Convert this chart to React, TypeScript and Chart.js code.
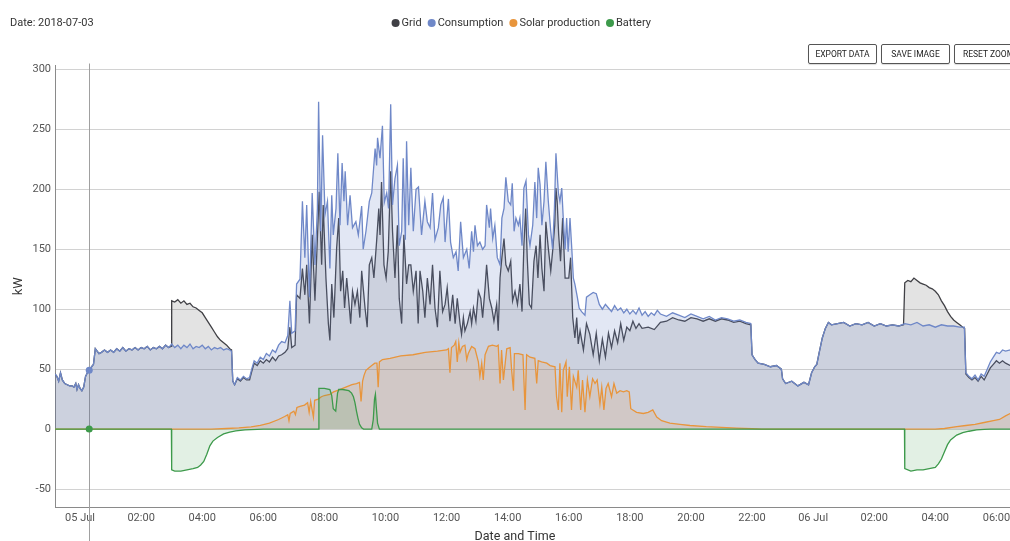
import React, { useEffect, useRef } from "react";
import { Chart, registerables } from "chart.js";

Chart.register(...registerables);

// ---------- data (hours since 05 Jul 00:00, kW) ----------
const seriesNames = ["Grid", "Consumption", "Solar production", "Battery"];
const xTickHours = [0, 2, 4, 6, 8, 10, 12, 14, 16, 18, 20, 22, 24, 26, 28, 30];
const dayLabels: Record<number, string> = { 0: "05 Jul", 24: "06 Jul" };
const yTickValues = [-50, 0, 50, 100, 150, 200, 250, 300];
const xRange = [-0.82, 31.1];
const yRange = [-65, 303.3];
const hoverHour = 0.3;
const dateText = "Date: 2018-07-03";
const buttonLabels = ["EXPORT DATA", "SAVE IMAGE", "RESET ZOOM"];

const consumptionPts: [number, number][] = [
  [-0.82,46],[-0.76,44],[-0.7,40],[-0.64,47],[-0.58,41],[-0.5,38],[-0.42,37],[-0.34,36],[-0.26,36],[-0.2,35],[-0.14,38],[-0.1,33],[-0.05,37],[0.0,34],[0.06,32],[0.12,35],[0.18,44],[0.24,47],[0.3,49],[0.38,52],[0.44,54],[0.5,67],[0.56,65],[0.62,63],[0.7,64],[0.8,66],[0.9,64],[1.0,66],[1.1,64],[1.2,67],[1.3,65],[1.4,68],[1.5,65],[1.6,67],[1.7,66],[1.8,68],[1.9,66],[2.0,68],[2.1,67],[2.2,69],[2.3,66],[2.4,68],[2.5,67],[2.6,69],[2.7,67],[2.8,70],[2.9,68],[3.0,71],[3.1,68],[3.2,70],[3.3,67],[3.4,70],[3.5,68],[3.6,71],[3.7,67],[3.8,69],[3.9,68],[4.0,70],[4.1,67],[4.2,69],[4.3,66],[4.4,68],[4.5,67],[4.6,68],[4.7,66],[4.8,67],[4.9,66],[4.96,65],[5.0,40],[5.06,37],[5.15,43],[5.25,41],[5.35,44],[5.45,42],[5.55,43],[5.62,50],[5.7,57],[5.8,55],[5.9,60],[6.0,58],[6.1,63],[6.2,61],[6.3,66],[6.4,64],[6.5,70],[6.6,73],[6.71,72],[6.8,78],[6.87,107],[6.93,80],[7.04,82],[7.09,121],[7.2,125],
  [7.28,190],[7.36,143],[7.42,187],[7.51,110],[7.6,197],[7.69,137],[7.77,184],[7.81,273],[7.88,165],[7.94,245],[8.02,179],[8.1,190],[8.18,134],[8.24,195],[8.29,162],[8.38,184],[8.44,230],[8.51,170],[8.58,222],[8.64,190],[8.68,215],[8.76,170],[8.84,195],[8.92,168],[9.03,173],[9.11,162],[9.22,186],[9.27,150],[9.36,165],[9.47,190],[9.55,197],[9.66,234],[9.71,220],[9.74,243],[9.82,226],[9.9,253],[9.96,189],[10.04,197],[10.1,184],[10.17,271],[10.23,187],[10.31,209],[10.39,220],[10.45,153],[10.53,165],[10.58,226],[10.65,158],[10.69,240],[10.76,170],[10.83,218],[10.91,165],[11.0,200],[11.08,202],[11.18,162],[11.29,190],[11.37,173],[11.46,168],[11.54,197],[11.62,158],[11.73,168],[11.81,187],[11.89,193],
  [11.95,156],[12.06,192],[12.13,156],[12.22,143],[12.31,148],[12.38,132],[12.46,173],[12.55,143],[12.66,150],[12.74,134],[12.82,165],[12.88,148],[12.93,170],[13.01,153],[13.09,156],[13.18,150],[13.26,153],[13.31,187],[13.4,168],[13.44,184],[13.51,159],[13.58,170],[13.66,143],[13.75,137],[13.81,176],[13.88,184],[13.94,210],[14.02,190],[14.1,187],[14.15,205],[14.21,165],[14.27,176],[14.35,170],[14.4,176],[14.47,153],[14.53,201],[14.6,207],[14.68,162],[14.73,153],[14.82,170],[14.89,206],[14.95,176],[15.0,218],[15.06,204],[15.12,170],[15.19,190],[15.25,223],[15.33,190],[15.41,165],[15.47,150],[15.53,184],[15.58,230],[15.66,197],[15.71,190],[15.77,201],[15.82,176],[15.88,150],[15.93,176],[15.98,148],[16.04,176],[16.1,150],[16.15,126],[16.2,121],[16.28,110],[16.34,101],[16.42,98],[16.53,95],[16.58,110],[16.69,112],
  [16.8,114],[16.9,113],[17.0,104],[17.1,100],[17.2,104],[17.3,101],[17.4,98],[17.5,103],[17.6,99],[17.7,101],[17.8,97],[17.9,100],[18.0,96],[18.1,99],[18.2,96],[18.3,101],[18.4,95],[18.5,98],[18.6,94],[18.7,97],[18.8,95],[18.9,99],[19.0,96],[19.2,94],[19.4,97],[19.6,95],[19.8,93],[20.0,96],[20.2,94],[20.4,92],[20.6,94],[20.8,91],[21.0,93],[21.2,92],[21.4,90],[21.6,91],[21.8,89],[21.96,88],[22.0,62],[22.1,58],[22.2,55],[22.4,54],[22.6,52],[22.8,53],[22.96,50],[23.0,42],[23.1,38],[23.3,40],[23.5,36],[23.7,39],[23.85,37],[23.95,47],[24.05,52],[24.12,54],[24.2,64],[24.3,76],[24.4,84],[24.5,89],[24.6,87],[24.8,88],[25.0,89],[25.2,86],[25.4,88],[25.6,87],[25.8,89],[26.0,86],[26.2,88],[26.4,86],[26.6,87],[26.8,86],[27.0,88],[27.2,87],[27.4,89],[27.6,86],[27.8,87],[28.0,85],[28.2,87],[28.4,86],[28.6,86],[28.8,85],[28.95,85],[29.0,47],[29.1,44],[29.2,42],[29.3,45],[29.4,41],[29.5,46],[29.6,44],[29.7,50],[29.8,56],[29.9,60],[30.0,64],[30.1,63],[30.2,66],[30.3,65],[30.45,66],[30.6,64],[30.8,67],[31.1,66],
];

const gridPts: [number, number][] = [
  [-0.82,46],[-0.76,44],[-0.7,40],[-0.64,47],[-0.58,41],[-0.5,38],[-0.42,37],[-0.34,36],[-0.26,36],[-0.2,35],[-0.14,38],[-0.1,33],[-0.05,37],[0.0,34],[0.06,32],[0.12,35],[0.18,44],[0.24,47],[0.3,49],[0.38,52],[0.44,54],[0.5,67],[0.56,65],[0.62,63],[0.7,64],[0.8,66],[0.9,64],[1.0,66],[1.1,64],[1.2,67],[1.3,65],[1.4,68],[1.5,65],[1.6,67],[1.7,66],[1.8,68],[1.9,66],[2.0,68],[2.1,67],[2.2,69],[2.3,66],[2.4,68],[2.5,67],[2.6,69],[2.7,67],[2.8,70],[2.9,68],[2.98,69],
  [3.0,107],[3.1,106],[3.2,108],[3.3,105],[3.4,107],[3.5,104],[3.6,105],[3.7,102],[3.8,101],[3.9,99],[4.0,97],[4.1,93],[4.2,89],[4.3,85],[4.4,81],[4.5,77],[4.6,74],[4.7,72],[4.8,70],[4.9,67],[4.96,66],[5.0,40],[5.06,37],[5.15,42],[5.25,40],[5.35,43],[5.45,41],[5.55,41],[5.62,48],[5.7,55],[5.8,53],[5.9,57],[6.0,55],[6.1,58],[6.2,56],[6.3,60],[6.4,57],[6.5,61],[6.6,62],[6.71,64],[6.8,67],[6.87,85],[6.93,68],[7.04,70],[7.09,112],[7.2,109],
  [7.28,134],[7.36,112],[7.42,137],[7.51,88],[7.6,162],[7.69,107],[7.77,159],[7.83,198],[7.91,137],[7.96,187],[8.05,126],[8.13,88],[8.18,74],[8.24,121],[8.31,93],[8.4,151],[8.47,176],[8.53,115],[8.6,132],[8.66,101],[8.73,126],[8.79,109],[8.86,88],[8.92,115],[9.0,104],[9.08,115],[9.16,93],[9.22,132],[9.33,101],[9.4,85],[9.47,137],[9.55,143],[9.62,126],[9.71,157],[9.78,184],[9.82,162],[9.87,206],[9.95,137],[10.02,126],[10.09,148],[10.17,215],[10.23,165],[10.31,126],[10.39,170],[10.45,109],[10.53,88],[10.6,162],[10.69,121],[10.76,137],[10.83,137],[10.91,115],[11.0,132],[11.07,88],[11.13,132],[11.22,115],[11.29,93],[11.37,126],[11.46,104],[11.54,137],[11.62,101],[11.7,85],[11.78,132],[11.87,98],
  [11.95,104],[12.02,118],[12.11,90],[12.2,112],[12.28,88],[12.35,109],[12.44,88],[12.49,79],[12.55,93],[12.6,82],[12.68,88],[12.77,98],[12.82,88],[12.88,101],[12.96,90],[13.04,115],[13.12,109],[13.18,93],[13.26,118],[13.31,137],[13.4,109],[13.48,101],[13.55,90],[13.64,104],[13.69,82],[13.75,126],[13.81,143],[13.88,159],[13.94,137],[14.02,132],[14.1,140],[14.16,107],[14.24,115],[14.32,104],[14.4,121],[14.47,98],[14.53,153],[14.59,184],[14.64,143],[14.71,104],[14.78,101],[14.86,140],[14.93,153],[14.99,126],[15.06,162],[15.12,134],[15.19,115],[15.25,173],[15.33,151],[15.41,132],[15.47,148],[15.54,170],[15.58,201],[15.62,190],[15.67,162],[15.73,140],[15.8,176],[15.88,126],[15.93,126],[16.0,126],[16.06,143],[16.13,93],[16.2,76],[16.26,93],[16.31,71],[16.37,82],[16.48,66],[16.58,88],[16.69,79],
  [16.8,62],[16.9,80],[17.0,57],[17.1,75],[17.2,60],[17.3,80],[17.4,68],[17.5,82],[17.6,72],[17.7,88],[17.8,74],[17.9,85],[18.0,82],[18.1,90],[18.2,84],[18.3,88],[18.4,84],[18.6,85],[18.8,83],[19.0,89],[19.2,90],[19.4,93],[19.6,91],[19.8,90],[20.0,93],[20.2,92],[20.4,90],[20.6,92],[20.8,90],[21.0,92],[21.2,91],[21.4,89],[21.6,90],[21.8,88],[21.96,87],[22.0,62],[22.1,58],[22.2,55],[22.4,54],[22.6,52],[22.8,53],[22.96,50],[23.0,42],[23.1,38],[23.3,40],[23.5,36],[23.7,39],[23.85,37],[23.95,47],[24.05,52],[24.12,54],[24.2,64],[24.3,76],[24.4,84],[24.5,89],[24.6,87],[24.8,88],[25.0,89],[25.2,86],[25.4,88],[25.6,87],[25.8,89],[26.0,86],[26.2,88],[26.4,86],[26.6,87],[26.8,86],[26.96,87],
  [27.0,122],[27.1,124],[27.2,123],[27.3,126],[27.4,124],[27.5,122],[27.6,121],[27.7,120],[27.8,118],[27.9,117],[28.0,115],[28.1,112],[28.2,107],[28.3,103],[28.4,98],[28.5,94],[28.6,91],[28.7,89],[28.8,87],[28.9,85],[28.96,84],[29.0,46],[29.1,43],[29.2,41],[29.3,43],[29.4,40],[29.5,44],[29.6,41],[29.7,46],[29.8,51],[29.9,54],[30.0,57],[30.1,55],[30.2,57],[30.3,55],[30.45,53],[30.6,50],[30.8,52],[31.1,49],
];

const solarPts: [number, number][] = [
  [-0.82,0],[4.3,0],[4.8,0.5],[5.2,1],[5.6,1.8],[5.9,3],[6.2,5],[6.5,8],[6.7,10.5],[6.8,12],[6.84,7],[6.88,13],[7.0,15],[7.05,12],[7.1,18],[7.2,19],[7.35,20],[7.45,22],[7.5,14],[7.55,23],[7.64,10],[7.68,24],[7.8,25],[7.9,27],[8.0,28],[8.18,29],[8.3,31],[8.5,33],[8.7,35],[8.9,37],[9.05,38],[9.15,39],[9.2,23],[9.25,40],[9.3,45],[9.36,49],[9.45,51],[9.55,53],[9.65,55],[9.72,55],[9.76,35],[9.8,56],[9.9,58],[10.15,59],[10.5,61],[10.9,62],[11.3,64],[11.7,65],[12.0,66],[12.06,67],[12.11,47],[12.16,68],[12.25,70],[12.3,73],[12.35,56],[12.4,72],[12.44,64],[12.52,69],[12.6,70],[12.66,58],[12.71,63],[12.82,69],[12.93,67],[13.04,56],[13.09,44],[13.15,55],[13.2,41],[13.26,62],[13.37,69],[13.5,70],[13.64,69],[13.69,70],[13.75,38],[13.8,66],[13.86,41],[13.97,67],[14.08,68],[14.13,49],[14.19,32],[14.22,63],[14.35,63],[14.5,62],[14.57,16],[14.62,62],[14.73,60],[14.89,59],[14.95,38],[15.0,57],[15.11,56],[15.28,55],[15.39,53],[15.55,52],[15.6,27],[15.66,16],[15.71,55],[15.77,14],[15.82,49],[15.91,56],[15.95,27],[16.02,52],[16.09,16],[16.15,44],[16.26,35],[16.31,49],[16.39,16],[16.45,41],[16.53,14],[16.61,41],[16.69,27],[16.78,42],[16.86,38],[16.93,41],[17.02,21],[17.08,35],[17.15,16],[17.22,34],[17.29,38],[17.4,27],[17.48,38],[17.57,30],[17.68,32],[17.79,31],[17.9,32],[17.98,31],[18.03,17],[18.22,14],[18.44,13],[18.6,14],[18.75,16],[18.88,10],[19.04,7],[19.31,5],[19.64,4],[19.97,3],[20.5,2],[21.0,1.5],[21.5,0.8],[22.0,0.3],[22.3,0],[28.0,0],[28.3,0.5],[28.7,2],[29.0,3],[29.3,4],[29.6,5.5],[29.9,7],[30.1,8],[30.3,11],[30.45,13],[30.7,15],[31.1,17],
];

const batteryPts: [number, number][] = [
  [-0.82,0],[0.3,0],[2.99,0],[3.0,-34],[3.1,-35],[3.3,-35],[3.5,-34],[3.7,-33],[3.85,-32],[3.95,-30],[4.05,-27],[4.15,-21],[4.25,-14],[4.35,-10],[4.5,-7],[4.7,-4],[4.9,-2.5],[5.1,-1.5],[5.4,-0.7],[5.8,-0.2],[6.0,0],[7.8,0],[7.82,34],[8.0,34],[8.18,33],[8.24,28],[8.29,17],[8.37,15],[8.43,30],[8.47,33],[8.6,33],[8.8,32],[8.89,30],[8.95,27],[9.0,22],[9.05,15],[9.1,9],[9.15,4],[9.22,1],[9.28,0],[9.55,0],[9.6,8],[9.64,25],[9.67,29],[9.7,18],[9.74,5],[9.8,0],[26.99,0],[27.0,-33],[27.2,-35],[27.4,-34],[27.6,-34],[27.8,-33],[28.0,-32],[28.1,-29],[28.2,-25],[28.3,-19],[28.4,-13],[28.5,-9],[28.6,-7],[28.7,-5],[28.9,-3],[29.1,-1.8],[29.35,-0.7],[29.6,-0.2],[29.8,0],[31.1,0],
];

// ---------- styles ----------
const FONT = "Roboto, 'Noto Sans', sans-serif";
const lineColors = ["#404045", "#6f88c8", "#e8953c", "#3d9a4b"];
const fillColors = [
  "rgba(64,64,70,0.15)",
  "rgba(111,136,200,0.2)",
  "rgba(232,149,60,0.15)",
  "rgba(61,154,75,0.15)",
];
const drawOrder = [3, 2, 1, 0];

const toXY = (pts: [number, number][]) => pts.map(([x, y]) => ({ x, y }));

const legendSpacer = {
  id: "legendSpacer",
  beforeInit(chart: any) {
    const legend = chart.legend;
    if (!legend) return;
    const orig = legend.fit;
    legend.fit = function () {
      orig.bind(legend)();
      legend.height += 27;
    };
  },
  afterLayout(chart: any) {
    const legend = chart.legend;
    if (!legend) return;
    legend.left += 8;
    legend.right += 8;
  },
};

const crosshair = {
  id: "crosshair",
  beforeDatasetsDraw(chart: any) {
    const xs = chart.scales.x;
    const x = Math.round(xs.getPixelForValue(hoverHour)) + 0.5;
    const ctx = chart.ctx;
    ctx.save();
    ctx.strokeStyle = "#a0a0a0";
    ctx.lineWidth = 1;
    ctx.beginPath();
    ctx.moveTo(x, chart.chartArea.top - 2);
    ctx.lineTo(x, chart.height);
    ctx.stroke();
    ctx.restore();
  },
};

export default function App() {
  const ref = useRef<HTMLCanvasElement | null>(null);

  useEffect(() => {
    if (!ref.current) return;
    const series = [gridPts, consumptionPts, solarPts, batteryPts];
    const hoverable = [false, true, false, true];
    const chart = new Chart(ref.current, {
      type: "line",
      data: {
        datasets: series.map((pts, i) => ({
          label: seriesNames[i],
          data: toXY(pts),
          borderColor: lineColors[i],
          backgroundColor: fillColors[i],
          borderWidth: 1.3,
          fill: "origin",
          tension: 0,
          order: drawOrder[i],
          pointRadius: (ctx: any) =>
            hoverable[i] && ctx.raw && ctx.raw.x === hoverHour ? 3.5 : 0,
          pointBackgroundColor: lineColors[i],
          pointBorderColor: lineColors[i],
          pointBorderWidth: 0,
        })),
      },
      options: {
        animation: false,
        responsive: false,
        devicePixelRatio: 1,
        events: [],
        layout: { padding: { top: 8, left: 0, right: 4, bottom: 0 } },
        plugins: {
          legend: {
            position: "top",
            labels: {
              usePointStyle: true,
              pointStyle: "circle",
              boxWidth: 1,
              boxHeight: 5.7,
              padding: 9.5,
              color: "#333",
              font: { family: FONT, size: 11 },
              sort: (a: any, b: any) => a.datasetIndex - b.datasetIndex,
              generateLabels: (c: any) =>
                Chart.defaults.plugins.legend.labels
                  .generateLabels(c)
                  .map((l: any) => ({ ...l, fillStyle: l.strokeStyle, lineWidth: 0 })),
            },
          },
          title: {
            display: true,
            position: "bottom",
            text: "Date and Time",
            color: "#333",
            font: { family: FONT, size: 12.5, weight: "normal" },
            padding: { top: 3, bottom: 4 },
          },
          tooltip: { enabled: false },
        },
        scales: {
          x: {
            type: "linear",
            min: xRange[0],
            max: xRange[1],
            afterBuildTicks: (s: any) => {
              s.ticks = xTickHours.map((v) => ({ value: v }));
            },
            afterFit: (s: any) => {
              s.height = 19;
            },
            grid: { display: false, drawTicks: false },
            border: { display: true, color: "#8a8a8a", width: 1 },
            ticks: {
              autoSkip: false,
              maxRotation: 0,
              padding: 5,
              color: "#555",
              font: { family: FONT, size: 11 },
              callback: (value: any) => {
                const v = Number(value);
                if (dayLabels[v] !== undefined) return dayLabels[v];
                const h = ((v % 24) + 24) % 24;
                return String(h).padStart(2, "0") + ":00";
              },
            },
          },
          y: {
            min: yRange[0],
            max: yRange[1],
            afterBuildTicks: (s: any) => {
              s.ticks = yTickValues.map((v) => ({ value: v }));
            },
            afterFit: (s: any) => {
              s.width = 55;
            },
            grid: { color: "#d2d2d2", drawTicks: false, lineWidth: 1 },
            border: { display: true, color: "#8a8a8a", width: 1 },
            ticks: {
              padding: 4,
              color: "#555",
              font: { family: FONT, size: 11 },
              callback: (value: any) => String(value),
            },
            title: {
              display: true,
              text: "kW",
              color: "#333",
              font: { family: FONT, size: 13 },
              padding: { top: 11, bottom: 4 },
            },
          },
        },
      } as any,
      plugins: [legendSpacer, crosshair],
    });
    return () => chart.destroy();
  }, []);

  return (
    <div
      style={{
        position: "fixed",
        left: 0,
        top: 0,
        width: 1010,
        height: 541,
        overflow: "hidden",
        background: "#fff",
        fontFamily: FONT,
      }}
    >
      <canvas
        ref={ref}
        width={1034}
        height={548}
        style={{ position: "absolute", left: 0, top: 0, width: 1034, height: 548, display: "block" }}
      />
      <div
        style={{
          position: "absolute",
          left: 10,
          top: 16,
          fontSize: 11,
          lineHeight: "13px",
          color: "#333",
          whiteSpace: "nowrap",
        }}
      >
        {dateText}
      </div>
      <div style={{ position: "absolute", left: 808, top: 44, display: "flex", gap: 4 }}>
        {buttonLabels.map((b) => (
          <div
            key={b}
            style={{
              width: 67,
              height: 18,
              border: "1px solid #555",
              borderRadius: 2,
              background: "#fff",
              fontSize: 8.5,
              lineHeight: "18px",
              textAlign: "center",
              color: "#222",
              whiteSpace: "nowrap",
              boxShadow: "0 1px 1px rgba(0,0,0,0.15)",
            }}
          >
            {b}
          </div>
        ))}
      </div>
    </div>
  );
}
